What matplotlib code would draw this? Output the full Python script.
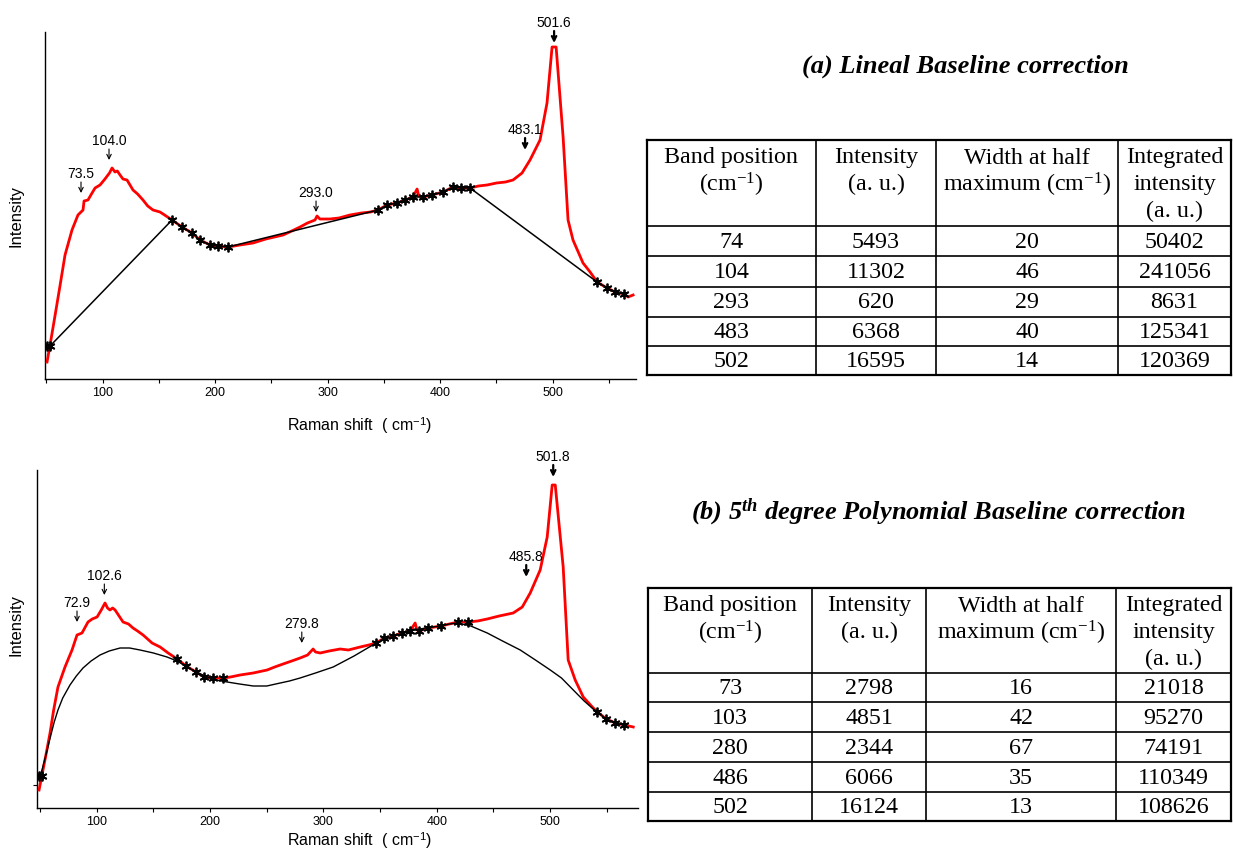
import numpy as np
import matplotlib
matplotlib.use("Agg")
import matplotlib.pyplot as plt

plt.rcParams["font.family"] = ["Liberation Sans", "DejaVu Sans"]
plt.rcParams["mathtext.fontset"] = "custom"
plt.rcParams["mathtext.rm"] = "Liberation Serif"
plt.rcParams["mathtext.it"] = "Liberation Serif:italic:bold"
plt.rcParams["mathtext.sf"] = "Liberation Sans"

W, H = 1233, 851

# ---- (a) spectrum with linear baseline ----
shift_a = [50.5, 53.2, 58.0, 62.0, 66.5, 72.7, 78.0, 82.5, 83.4, 86.9,
           90.0, 93.2, 97.6, 102.0, 106.0, 108.3, 110.9, 113.0, 115.4, 118.0,
           121.6, 126.9, 131.0, 135.8, 140.0, 144.7, 150.9, 155.0, 161.6, 170.5,
           179.4, 186.5, 195.4, 202.5, 211.4, 222.0, 233.6, 245.0, 260.3, 268.0,
           275.4, 282.0, 288.7, 290.5, 293.0, 302.0, 310.0, 319.8, 330.0, 338.0,
           344.7, 352.7, 361.6, 368.7, 375.8, 379.4, 381.0, 384.7, 392.7, 402.5,
           411.4, 418.5, 426.5, 434.0, 441.6, 450.0, 458.0, 464.7, 472.7, 479.8,
           488.7, 494.9, 499.4, 503.0, 509.2, 513.6, 518.0, 526.9, 533.2, 539.4,
           548.3, 555.4, 563.4, 567.0, 571.4]
signal_a = [17, 34, 66, 93, 124, 149, 164, 169, 178, 179,
            185, 191, 194, 200, 206, 211, 207, 208, 204, 200,
            199, 189, 185, 179, 173, 169, 167, 164, 159, 152,
            146, 139, 134, 133, 132, 134, 136, 140, 144, 148,
            152, 156, 159, 163, 160, 160, 161, 164, 166, 167,
            169, 174, 176, 179, 182, 190, 183, 182, 184, 187,
            192, 191, 191, 193, 194, 196, 197, 199, 206, 219,
            239, 276, 332, 332, 242, 159, 139, 116, 107, 97,
            91, 87, 85, 82, 84]

anchor_x_a = [50.5, 53.2, 161.6, 170.5, 179.4, 186.5, 195.4, 202.5, 211.4,
              344.7, 352.7, 361.6, 368.7, 375.8, 384.7, 392.7, 402.5, 411.4,
              418.5, 426.5, 539.4, 548.3, 555.4, 563.4]
anchor_y_a = [33, 33, 159, 152, 146, 139, 134, 133, 132,
              169, 174, 176, 179, 182, 182, 184, 187, 192,
              191, 191, 97, 91, 87, 85]

peaks_a = ["73.5", "104.0", "293.0", "483.1", "501.6"]
peak_x_a = [80.7, 105.6, 289.6, 475.4, 501.2]
peak_tip_a = [186, 219, 167, 229, 336]

# ---- (b) spectrum with 5th degree polynomial baseline ----
shift_b = [49.1, 51.7, 55.0, 58.8, 62.0, 65.8, 72.0, 78.2, 82.6, 87.0,
           92.3, 96.0, 100.3, 104.0, 107.3, 109.5, 111.7, 114.0, 116.2, 123.2,
           128.0, 132.0, 136.0, 140.9, 148.8, 155.9, 163.0, 170.9, 178.8, 187.6,
           194.7, 202.6, 211.5, 218.0, 226.5, 238.0, 250.3, 257.0, 264.4, 272.0,
           279.4, 286.0, 290.9, 293.0, 297.1, 305.0, 314.7, 322.0, 332.4, 340.0,
           346.5, 353.6, 361.5, 369.5, 376.5, 380.9, 382.5, 384.5, 392.4, 403.9,
           411.0, 418.9, 427.7, 436.0, 444.5, 455.0, 467.4, 475.4, 482.4, 491.2,
           497.4, 501.8, 504.5, 511.5, 515.9, 522.1, 529.2, 537.2, 541.6, 549.5,
           557.5, 565.4, 573.3]
signal_b = [18, 33, 52, 75, 98, 121, 141, 158, 173, 175,
            186, 189, 191, 198, 205, 200, 198, 200, 198, 186,
            184, 180, 177, 173, 165, 161, 155, 149, 142, 136,
            131, 130, 130, 131, 133, 135, 138, 141, 144, 147,
            150, 153, 159, 156, 155, 157, 159, 158, 161, 163,
            165, 170, 172, 175, 177, 185, 178, 177, 180, 182,
            184, 186, 186, 187, 189, 192, 195, 201, 215, 238,
            271, 323, 323, 241, 148, 128, 111, 101, 96, 89,
            85, 83, 81]

poly_x_b = [49.1, 51.7, 54.0, 56.1, 58.0, 60.0, 62.5, 65.8, 70.0, 76.4,
            82.0, 87.9, 95.0, 102.9, 111.0, 120.6, 129.0, 138.2, 150.0, 162.0,
            170.9, 179.7, 187.6, 197.5, 205.0, 215.1, 226.0, 238.1, 250.0, 261.9,
            270.0, 279.4, 293.0, 308.6, 327.0, 346.5, 361.5, 376.5, 390.0, 403.0,
            411.0, 418.0, 430.0, 444.5, 458.0, 473.6, 487.0, 500.1, 510.0, 520.4,
            530.0, 538.0, 541.6, 549.5, 557.5, 565.4]
poly_y_b = [30, 38, 48, 57, 66, 75, 86, 98, 110, 123,
            132, 140, 147, 153, 157, 160, 160, 158, 155, 151,
            147, 141, 136, 131, 128, 126, 124, 122, 122, 125,
            127, 130, 135, 141, 152, 165, 172, 177, 180, 182,
            184, 185, 182, 175, 167, 158, 148, 138, 130, 118,
            107, 99, 96, 89, 85, 83]

anchor_x_b = [49.1, 51.7, 170.9, 178.8, 187.6, 194.7, 202.6, 211.5,
              346.5, 353.6, 361.5, 369.5, 376.5, 384.5, 392.4, 403.9,
              418.9, 427.7, 541.6, 549.5, 557.5, 565.4]
anchor_y_b = [32, 32, 149, 142, 136, 131, 130, 130,
              165, 170, 172, 175, 177, 177, 180, 182,
              186, 186, 96, 89, 85, 83]

peaks_b = ["72.9", "102.6", "279.8", "485.8", "501.8"]
peak_x_b = [82.6, 106.7, 280.9, 478.9, 502.7]
peak_tip_b = [186, 213, 165, 231, 331]

# ---- tables ----
headers = [["Band position", "(cm$^{-1}$)"],
           ["Intensity", "(a. u.)"],
           ["Width at half", "maximum (cm$^{-1}$)"],
           ["Integrated", "intensity", "(a. u.)"]]
band_a = ["74", "104", "293", "483", "502"]
inten_a = ["5493", "11302", "620", "6368", "16595"]
width_a = ["20", "46", "29", "40", "14"]
integ_a = ["50402", "241056", "8631", "125341", "120369"]
band_b = ["73", "103", "280", "486", "502"]
inten_b = ["2798", "4851", "2344", "6066", "16124"]
width_b = ["16", "42", "67", "35", "13"]
integ_b = ["21018", "95270", "74191", "110349", "108626"]


def px_axes(fig, left, right, top, bottom):
    return fig.add_axes([left / W, (H - bottom) / H, (right - left) / W, (bottom - top) / H])


def style_axes(ax, xlim, ylim, xlab_pos, ylab_pos):
    ax.set_xlim(*xlim)
    ax.set_ylim(*ylim)
    for s in ("top", "right"):
        ax.spines[s].set_visible(False)
    for s in ("left", "bottom"):
        ax.spines[s].set_linewidth(1.0)
    ticks = np.arange(50, 551, 50)
    ax.set_xticks(ticks)
    ax.set_xticklabels([str(t) if t % 100 == 0 else "" for t in ticks], fontsize=9)
    ax.tick_params(axis="x", direction="out", length=3, width=0.8, pad=3)
    ax.set_ylabel("Intensity", fontsize=12)
    ax.set_xlabel(r"Raman shift  ( cm$^{\mathsf{-1}}$)", fontsize=11.5)
    ax.xaxis.set_label_coords(*xlab_pos)
    ax.yaxis.set_label_coords(*ylab_pos)


def draw_peaks(ax, labels, xs, tips, bold_from=3):
    for i, (lab, x, tip) in enumerate(zip(labels, xs, tips)):
        bold = i >= bold_from
        tail = tip + (12 if bold else 11)
        ax.annotate("", xy=(x, tip), xytext=(x, tail),
                    arrowprops=dict(arrowstyle="->", lw=1.6 if bold else 0.8,
                                    color="black", shrinkA=0, shrinkB=0,
                                    mutation_scale=8),
                    annotation_clip=False)
        ax.text(x, tail + 1, lab, ha="center", va="bottom", fontsize=10,
                clip_on=False)


fig = plt.figure(figsize=(W / 100, H / 100), dpi=100)

# (a)
ax1 = px_axes(fig, 45, 636, 32, 379)
ax1.plot(shift_a, signal_a, color="#ff0000", lw=2.0, zorder=3)
ax1.plot(anchor_x_a, anchor_y_a, color="black", lw=1.1, zorder=4)
ax1.plot(anchor_x_a, anchor_y_a, ls="none", marker=(6, 2, 0), ms=7,
         mew=1.3, color="black", zorder=5)
style_axes(ax1, (48.7, 574), (0, 347), (0.533, -0.105), (-0.036, 0.47))
ax1.set_yticks([])
draw_peaks(ax1, peaks_a, peak_x_a, peak_tip_a)

# (b)
ax2 = px_axes(fig, 37, 638, 470, 808)
ax2.plot(shift_b, signal_b, color="#ff0000", lw=2.0, zorder=3)
ax2.plot(poly_x_b, poly_y_b, color="black", lw=1.0, zorder=4)
ax2.plot(anchor_x_b, anchor_y_b, ls="none", marker=(6, 2, 0), ms=7,
         mew=1.3, color="black", zorder=5)
style_axes(ax2, (47.3, 577.5), (0, 338), (0.537, -0.064), (-0.022, 0.54))
ax2.set_yticks([23])
ax2.set_yticklabels([""])
ax2.tick_params(axis="y", direction="out", length=3, width=0.8)
draw_peaks(ax2, peaks_b, peak_x_b, peak_tip_b)

# overlay for titles and tables (pixel coordinates)
ov = fig.add_axes([0, 0, 1, 1])
ov.set_xlim(0, W)
ov.set_ylim(H, 0)
ov.axis("off")
ov.patch.set_alpha(0)

serif = ["Liberation Serif", "DejaVu Serif"]
ov.text(965, 66, "(a) Lineal Baseline correction", ha="center", va="center",
        fontsize=19, fontweight="bold", fontstyle="italic", family=serif)
ov.text(939, 512, "(b) 5$^{th}$ degree Polynomial Baseline correction",
        ha="center", va="center", fontsize=19, fontweight="bold",
        fontstyle="italic", family=serif)


def draw_table(cols_x, rows_y, columns):
    x0, x1 = cols_x[0], cols_x[-1]
    y0, y1 = rows_y[0], rows_y[-1]
    for i, y in enumerate(rows_y):
        lw = 1.6 if i in (0, len(rows_y) - 1) else 1.2
        ov.plot([x0, x1], [y, y], color="black", lw=lw, solid_capstyle="projecting")
    for i, x in enumerate(cols_x):
        lw = 1.6 if i in (0, len(cols_x) - 1) else 1.2
        ov.plot([x, x], [y0, y1], color="black", lw=lw, solid_capstyle="projecting")
    for c, (head, values) in enumerate(zip(headers, columns)):
        cx = (cols_x[c] + cols_x[c + 1]) / 2
        for k, line in enumerate(head):
            ov.text(cx, rows_y[0] + 18 + 26.7 * k, line, ha="center", va="center",
                    fontsize=17.3, family=serif)
        for r, v in enumerate(values):
            cy = (rows_y[r + 1] + rows_y[r + 2]) / 2
            ov.text(cx, cy + 1, v, ha="center", va="center", fontsize=17.3, family=serif)


draw_table([647, 816, 936, 1118, 1231], [140, 226, 256, 287, 317, 346, 375],
           [band_a, inten_a, width_a, integ_a])
draw_table([648, 812, 926, 1116, 1231], [588, 673, 702, 732, 762, 792, 821],
           [band_b, inten_b, width_b, integ_b])

fig.savefig("out.png", dpi=100)
